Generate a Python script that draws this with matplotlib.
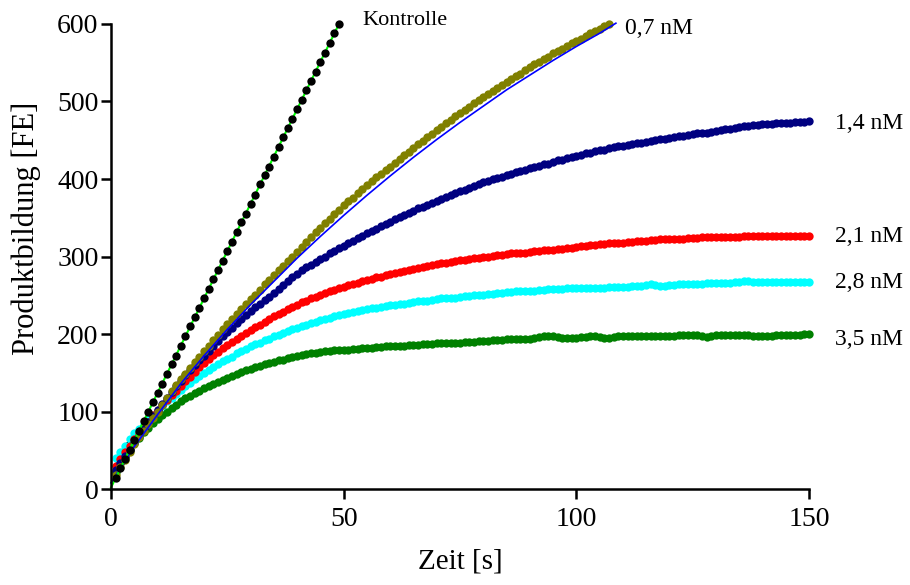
import numpy as np
import matplotlib.pyplot as plt

plt.rcParams['font.family'] = ['Liberation Serif', 'DejaVu Serif']

# sampling times of the progress curves (1 s steps)
t_all = np.arange(1, 151)

# Kontrolle (no inhibitor), 1..49 s
kontrolle = [14, 27, 39, 50, 63, 75, 88, 99, 112, 124,
             136, 149, 161, 172, 185, 197, 210, 222, 233, 246,
             258, 271, 283, 294, 307, 319, 332, 344, 355, 368,
             380, 393, 405, 416, 429, 441, 454, 466, 477, 490,
             502, 515, 527, 538, 551, 563, 576, 588, 600]

# 0,7 nM, 1..107 s
c07 = [18, 28, 38, 48, 58, 67, 75, 84, 92, 100,
       109, 117, 126, 134, 142, 149, 156, 164, 171, 178,
       185, 192, 199, 206, 213, 219, 226, 232, 239, 245,
       251, 257, 264, 270, 276, 282, 288, 294, 300, 306,
       312, 319, 325, 331, 337, 343, 349, 355, 360, 366,
       371, 376, 382, 387, 392, 397, 402, 406, 411, 416,
       421, 426, 431, 435, 440, 445, 449, 454, 458, 463,
       467, 472, 476, 481, 485, 489, 493, 498, 502, 506,
       510, 514, 517, 521, 525, 529, 533, 536, 540, 544,
       548, 551, 555, 558, 562, 565, 568, 572, 575, 578,
       581, 585, 588, 591, 594, 597, 600]

# 1,4 nM
c14 = [25, 34, 43, 51, 60, 69, 77, 86, 94, 102,
       110, 118, 125, 133, 140, 147, 153, 160, 166, 172,
       178, 185, 191, 197, 203, 208, 214, 219, 225, 230,
       235, 239, 244, 248, 253, 258, 263, 268, 273, 278,
       282, 286, 289, 293, 297, 300, 304, 307, 311, 314,
       317, 320, 324, 327, 330, 333, 336, 339, 342, 345,
       348, 351, 353, 356, 359, 362, 364, 367, 369, 372,
       374, 377, 379, 382, 384, 386, 389, 391, 394, 396,
       398, 400, 401, 403, 405, 407, 409, 410, 412, 414,
       416, 417, 419, 420, 422, 424, 425, 427, 428, 430,
       431, 433, 434, 436, 437, 438, 440, 441, 442, 443,
       444, 445, 446, 447, 448, 449, 450, 451, 452, 453,
       454, 455, 456, 457, 458, 459, 460, 460, 461, 462,
       463, 464, 465, 466, 467, 468, 469, 470, 470, 471,
       471, 471, 472, 472, 472, 472, 473, 473, 474, 475]

# 2,1 nM
c21 = [30, 39, 48, 56, 64, 72, 80, 87, 95, 102,
       108, 115, 121, 127, 133, 139, 145, 151, 157, 163,
       168, 173, 177, 182, 186, 190, 194, 198, 201, 205,
       209, 212, 216, 219, 223, 226, 229, 232, 235, 238,
       241, 243, 246, 248, 251, 253, 255, 257, 259, 261,
       263, 265, 266, 268, 270, 271, 273, 274, 276, 277,
       279, 280, 281, 283, 284, 285, 286, 288, 289, 290,
       291, 292, 293, 294, 295, 296, 297, 298, 298, 299,
       300, 301, 302, 302, 303, 304, 304, 305, 305, 306,
       307, 307, 308, 308, 309, 310, 310, 311, 311, 312,
       313, 314, 315, 315, 316, 316, 317, 317, 318, 318,
       319, 319, 320, 320, 320, 321, 321, 322, 322, 322,
       323, 323, 323, 324, 324, 324, 325, 325, 325, 325,
       325, 325, 325, 325, 325, 326, 326, 326, 326, 326,
       326, 326, 326, 326, 326, 327, 327, 327, 327, 327]

# 2,8 nM
c28 = [40, 48, 56, 64, 72, 78, 84, 90, 96, 102,
       107, 113, 118, 123, 128, 133, 137, 142, 146, 150,
       154, 158, 161, 165, 168, 171, 175, 178, 181, 184,
       187, 189, 192, 194, 197, 199, 201, 204, 206, 208,
       210, 212, 214, 216, 218, 220, 221, 223, 224, 226,
       227, 228, 230, 231, 232, 233, 234, 235, 236, 237,
       238, 239, 239, 240, 241, 242, 243, 243, 244, 245,
       246, 246, 247, 247, 248, 249, 249, 250, 250, 251,
       252, 252, 253, 253, 254, 254, 255, 255, 256, 256,
       256, 257, 257, 258, 258, 258, 258, 259, 259, 259,
       259, 260, 260, 260, 260, 260, 261, 261, 261, 261,
       261, 262, 262, 262, 263, 264, 263, 262, 262, 263,
       263, 264, 264, 265, 265, 265, 265, 266, 266, 266,
       266, 266, 266, 267, 267, 268, 268, 267, 267, 267,
       267, 267, 267, 267, 267, 267, 267, 267, 267, 267]

# 3,5 nM
c35 = [22, 33, 42, 51, 59, 66, 73, 79, 85, 90,
       95, 100, 104, 109, 113, 117, 120, 124, 127, 130,
       133, 136, 138, 141, 143, 146, 148, 151, 153, 155,
       157, 159, 161, 162, 164, 166, 167, 169, 170, 172,
       173, 174, 175, 176, 177, 178, 178, 179, 179, 180,
       180, 181, 181, 182, 182, 182, 183, 183, 184, 184,
       185, 185, 185, 186, 186, 186, 187, 187, 187, 188,
       188, 188, 189, 189, 189, 190, 190, 190, 191, 191,
       191, 192, 192, 192, 193, 193, 193, 194, 194, 194,
       195, 196, 197, 197, 197, 196, 195, 195, 195, 195,
       196, 196, 197, 197, 196, 195, 195, 196, 197, 197,
       197, 197, 198, 198, 198, 198, 198, 198, 197, 198,
       198, 199, 199, 199, 199, 199, 198, 196, 197, 199,
       199, 199, 199, 199, 199, 199, 199, 198, 198, 197,
       197, 198, 199, 199, 199, 199, 199, 199, 200, 200]

# fitted curve for 0,7 nM (blue line, visible below the points)
fit07_t = [0, 5, 10, 15, 20, 25, 30, 35, 40, 45, 50, 55, 60, 65, 70,
           75, 80, 85, 90, 95, 100, 105, 108.5]
fit07_v = [8, 55, 96, 136, 172, 206, 238, 268, 298, 326, 353, 379, 404,
           428, 451, 473, 494, 515, 534, 553, 571, 588, 601]

# linear fit Kontrolle
fitk_t = [0, 49]
fitk_v = [2, 600]

fig = plt.figure(figsize=(9.1, 5.85), dpi=100)
ax = fig.add_axes([0.122, 0.164, 0.767, 0.795])

ms = 6.0
# fit lines underneath the points
ax.plot(t_all, c35, '-', color='blue', lw=1.0)
ax.plot(t_all, c28, '-', color='black', lw=1.0)
ax.plot(t_all, c21, '-', color='black', lw=1.0)
ax.plot(t_all, c14, '-', color='magenta', lw=1.0)

# data points
series = [(c35, '#008000'), (c28, '#00ffff'), (c21, '#ff0000'),
          (c14, '#000080')]
for vals, col in series:
    ax.plot(t_all[:len(vals)], vals, 'o', color=col, ms=ms, mew=0,
            clip_on=False)

ax.plot(t_all[:len(c07)], c07, 'o', color='#808000', ms=ms, mew=0,
        clip_on=False)
ax.plot(fit07_t, fit07_v, '-', color='blue', lw=1.2, clip_on=False)

ax.plot(fitk_t, fitk_v, '-', color='#00ff00', lw=1.5, clip_on=False)
ax.plot(t_all[:len(kontrolle)], kontrolle, 'o', color='black', ms=ms,
        mew=0, clip_on=False)

# curve labels
ax.text(54, 605, 'Kontrolle', fontsize=16, ha='left', va='center')
ax.text(110.5, 594, '0,7 nM', fontsize=17, ha='left', va='center')
labels = ['1,4 nM', '2,1 nM', '2,8 nM', '3,5 nM']
label_y = [472, 326, 266, 193]
for lab, y in zip(labels, label_y):
    ax.text(155.5, y, lab, fontsize=17, ha='left', va='center',
            clip_on=False)

ax.set_xlim(0, 150)
ax.set_ylim(0, 600)
ax.set_xticks([0, 50, 100, 150])
ax.set_yticks([0, 100, 200, 300, 400, 500, 600])
ax.spines['top'].set_visible(False)
ax.spines['right'].set_visible(False)
for s in ['left', 'bottom']:
    ax.spines[s].set_linewidth(1.8)
ax.tick_params(direction='out', length=7, width=1.8, labelsize=20)
ax.tick_params(axis='y', pad=2)
ax.tick_params(axis='x', pad=6)

ax.set_xlabel('Zeit [s]', fontsize=21, labelpad=12)
ax.set_ylabel('Produktbildung [FE]', fontsize=22)
ax.yaxis.set_label_coords(-0.100, 0.56)

fig.savefig('out.png', dpi=100)
